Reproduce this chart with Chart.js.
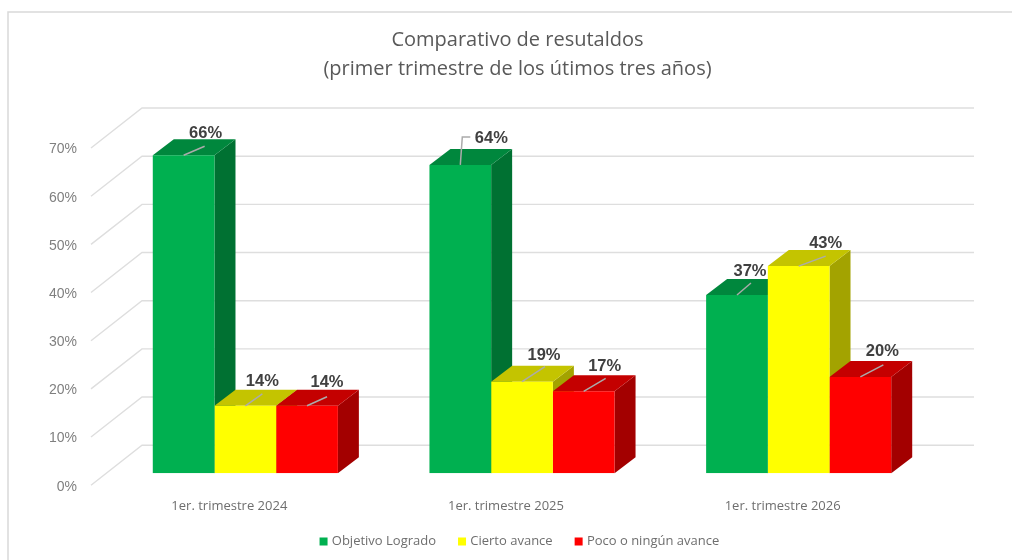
<!DOCTYPE html>
<html>
<head>
<meta charset="utf-8">
<title>Comparativo de resultados</title>
<script src="https://cdn.jsdelivr.net/npm/chart.js@4"></script>
<style>
  body { margin: 0; background: #fff; }
  canvas { display: block; }
</style>
</head>
<body>
<canvas id="grafico" width="1012" height="560"></canvas>
<script>
const categorias = ['1er. trimestre 2024', '1er. trimestre 2025', '1er. trimestre 2026'];
const series = ['Objetivo Logrado', 'Cierto avance', 'Poco o ningún avance'];
const objetivoLogrado = [66, 64, 37];
const ciertoAvance = [14, 19, 43];
const pocoAvance = [14, 17, 20];
const tituloLineas = ['Comparativo de resutaldos', '(primer trimestre de los útimos tres años)'];

const coloresFrente = ['#00B050', '#FFFF00', '#FF0000'];
const coloresTapa = ['#00873D', '#C4C400', '#C40000'];
const coloresLado = ['#007132', '#A3A300', '#A30000'];

// profundidad de las barras y de las paredes
const barDx = 21, barDy = -16;
const wallFrontDx = -16, wallBackDx = 35, wallBackDy = -28, wallFrontDy = 12;
const wallRightDx = 37;

// linea guia de cada etiqueta, desde el centro de la tapa
const guias = [
  [[[21, -9]], [[17, -12]], [[20, -9]]],
  [[[2, -28], [10, -28]], [[23, -15]], [[22, -13]]],
  [[[14, -12]], [[27, -10]], [[23, -12]]]
];
const etiquetas = [
  [[22, -22], [17, -24], [20, -23]],
  [[31, -26], [22, -26], [21, -25]],
  [[13, -24], [27, -23], [22, -25]]
];

const efecto3d = {
  id: 'efecto3d',
  afterLayout(chart) {
    // la leyenda no va centrada con el titulo
    chart.legend.left += 3;
    chart.legend.right += 3;
  },
  beforeDraw(chart) {
    // marco del grafico, abierto a la derecha y abajo
    const ctx = chart.ctx;
    ctx.save();
    ctx.strokeStyle = '#D9D9D9';
    ctx.lineWidth = 1.5;
    ctx.beginPath();
    ctx.moveTo(8, chart.height);
    ctx.lineTo(8, 12);
    ctx.lineTo(chart.width, 12);
    ctx.stroke();
    ctx.restore();
  },
  beforeDatasetsDraw(chart) {
    const ctx = chart.ctx;
    const y = chart.scales.y;
    const area = chart.chartArea;
    ctx.save();

    // paredes
    ctx.strokeStyle = '#DEDEDE';
    ctx.lineWidth = 1.4;
    y.ticks.forEach(t => {
      const py = y.getPixelForValue(t.value);
      ctx.beginPath();
      ctx.moveTo(area.left + wallFrontDx, py + wallFrontDy);
      ctx.lineTo(area.left + wallBackDx, py + wallBackDy);
      ctx.lineTo(area.right + wallRightDx, py + wallBackDy);
      ctx.stroke();
    });

    // lados y tapas, de izquierda a derecha
    for (let i = 0; i < categorias.length; i++) {
      chart.data.datasets.forEach((ds, d) => {
        const bar = chart.getDatasetMeta(d).data[i];
        const left = bar.x - bar.width / 2;
        const right = bar.x + bar.width / 2;
        ctx.fillStyle = coloresLado[d];
        ctx.beginPath();
        ctx.moveTo(right, bar.y);
        ctx.lineTo(right + barDx, bar.y + barDy);
        ctx.lineTo(right + barDx, bar.base + barDy);
        ctx.lineTo(right, bar.base);
        ctx.closePath();
        ctx.fill();
        ctx.fillStyle = coloresTapa[d];
        ctx.beginPath();
        ctx.moveTo(left, bar.y);
        ctx.lineTo(left + barDx, bar.y + barDy);
        ctx.lineTo(right + barDx, bar.y + barDy);
        ctx.lineTo(right, bar.y);
        ctx.closePath();
        ctx.fill();
      });
    }
    ctx.restore();
  },
  afterDatasetsDraw(chart) {
    const ctx = chart.ctx;
    ctx.save();
    ctx.font = 'bold 16.5px "Liberation Sans"';
    ctx.textAlign = 'center';
    ctx.textBaseline = 'middle';
    chart.data.datasets.forEach((ds, d) => {
      chart.getDatasetMeta(d).data.forEach((bar, i) => {
        const etiqueta = etiquetas[i][d];
        ctx.strokeStyle = '#ABABAB';
        ctx.lineWidth = 1.5;
        ctx.beginPath();
        ctx.moveTo(bar.x, bar.y);
        guias[i][d].forEach(p => ctx.lineTo(bar.x + p[0], bar.y + p[1]));
        ctx.stroke();
        ctx.fillStyle = '#404040';
        ctx.fillText(ds.data[i] + '%', bar.x + etiqueta[0], bar.y + etiqueta[1]);
      });
    });
    ctx.restore();
  }
};

const ctx = document.getElementById('grafico').getContext('2d');
const myChart = new Chart(ctx, {
  type: 'bar',
  data: {
    labels: categorias,
    datasets: [objetivoLogrado, ciertoAvance, pocoAvance].map((valores, d) => ({
      label: series[d],
      data: valores,
      backgroundColor: coloresFrente[d],
      borderWidth: 0
    }))
  },
  plugins: [efecto3d],
  options: {
    responsive: false,
    animation: false,
    categoryPercentage: 0.669,
    barPercentage: 1,
    layout: { padding: { left: 30, right: 7, top: 0, bottom: 2 } },
    scales: {
      x: {
        grid: { display: false, drawTicks: false },
        border: { display: false },
        afterFit: s => { s.height = 37.5; },
        ticks: {
          labelOffset: -16,
          padding: 25,
          maxRotation: 0,
          color: '#6E6E6E',
          font: { family: '"Open Sans"', size: 13 }
        }
      },
      y: {
        min: 0,
        max: 70,
        grid: { display: false, drawTicks: false },
        border: { display: false },
        afterFit: s => { s.width = 77; },
        ticks: {
          stepSize: 10,
          labelOffset: 13.5,
          padding: 30,
          color: '#7F7F7F',
          font: { family: '"Liberation Sans"', size: 14 },
          callback: v => v + '%'
        }
      },
      // eje vacio: solo reserva el margen derecho del area
      y2: {
        position: 'right',
        min: 0,
        max: 70,
        grid: { display: false, drawTicks: false },
        border: { display: false },
        afterFit: s => { s.width = 68; },
        ticks: { display: false }
      }
    },
    plugins: {
      title: {
        display: true,
        text: tituloLineas,
        color: '#595959',
        font: { family: '"Open Sans"', size: 20, weight: 'normal', lineHeight: 1.45 },
        padding: { top: 26, bottom: 52 }
      },
      legend: {
        position: 'bottom',
        labels: {
          usePointStyle: true,
          pointStyle: 'rect',
          boxWidth: 3.5,
          boxHeight: 8,
          padding: 24.25,
          color: '#6E6E6E',
          font: { family: '"Open Sans"', size: 13 }
        }
      },
      tooltip: { enabled: false }
    }
  }
});
</script>
</body>
</html>
